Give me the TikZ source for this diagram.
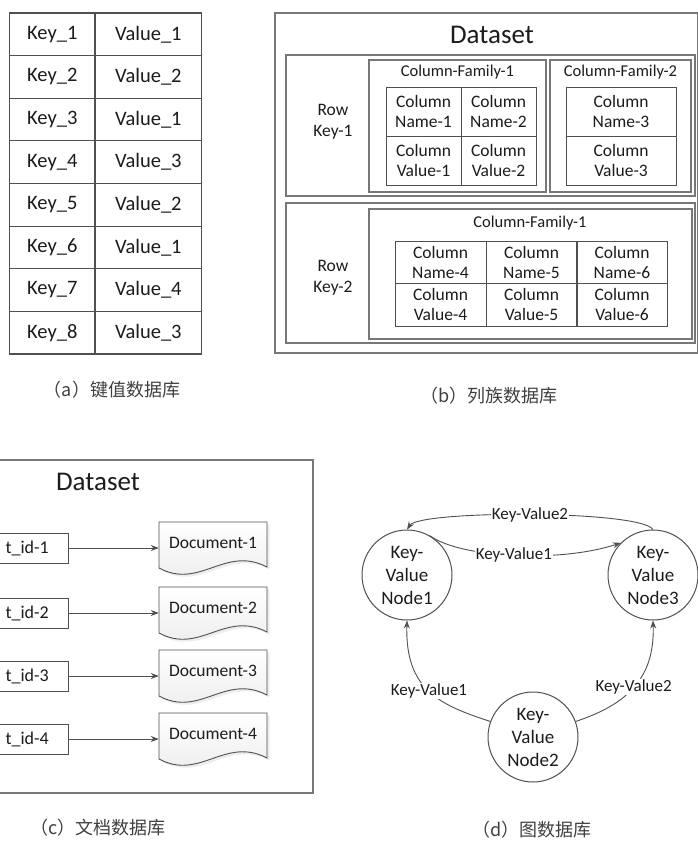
\documentclass[tikz,border=0pt]{standalone}
\usepackage{fontspec}
\setmainfont{Carlito}
\newfontfamily\cjkfont{Noto Sans CJK SC}
\usetikzlibrary{arrows.meta}
\definecolor{ink}{HTML}{1C1C1C}
\definecolor{edge}{HTML}{505050}
\definecolor{rim}{HTML}{777777}

\begin{document}
\begin{tikzpicture}[x=1pt,y=-1pt,
  tcell/.style={draw=edge, line width=1.1pt, inner sep=0pt, text=ink,
    font=\fontsize{20.5}{24}\selectfont},
  cell/.style={draw=edge, line width=1pt, inner sep=0pt, align=center, text=ink,
    font=\fontsize{17.5}{20}\selectfont},
  txt/.style={inner sep=0pt, align=center, text=ink, font=\fontsize{17.5}{21}\selectfont},
  cftxt/.style={inner sep=0pt, text=ink, font=\fontsize{16.5}{20}\selectfont},
  title/.style={inner sep=0pt, text=ink, font=\fontsize{27}{30}\selectfont},
  rim/.style={draw=rim, line width=1.5pt},
  thinrim/.style={draw=rim, line width=1.1pt},
  keybox/.style={draw=edge, line width=1pt, inner sep=0pt, minimum width=136pt, minimum height=30pt},
  doctext/.style={inner sep=0pt, minimum width=108pt, text=ink, font=\fontsize{17.5}{20}\selectfont},
  docshape/.style={draw=edge, line width=0.9pt, top color=white, bottom color=black!8},
  kv/.style={circle, draw=edge, line width=1pt, minimum size=90pt, inner sep=0pt,
    align=center, text=ink, font=\fontsize{19}{23}\selectfont},
  link/.style={draw=edge, line width=0.9pt, -{Stealth[length=8pt,width=6pt]}},
  lbl/.style={fill=white, inner sep=1pt, text=ink, font=\fontsize{17}{20}\selectfont},
  caption/.style={inner sep=0pt, text=black!75, font=\cjkfont\fontsize{18}{20}\selectfont}]

\useasboundingbox (0,0) rectangle (698,844);
\fill[white] (0,0) rectangle (698,844);

% ---------- (a) key-value store ----------
\foreach \k/\v [count=\i] in {1/1,2/2,3/1,4/3,5/2,6/1,7/4,8/3} {
  \node[tcell, minimum width=85.5pt, minimum height=42.625pt]
    (key\i) at (52.25,{13+42.625*(\i-0.5)}) {Key\_\k};
  \node[tcell, minimum width=106.7pt, minimum height=42.625pt]
    (val\i) at (148.35,{13+42.625*(\i-0.5)}) {Value\_\v};
}
\node[caption] (capa) at (112,390) {（a）键值数据库};

% ---------- (b) column-family store ----------
\draw[rim] (275,13) rectangle (697.5,353);
\node[title] (dsb) at (492,35) {Dataset};

% row 1
\draw[rim] (286,55) rectangle (695,196);
\node[txt] (rk1) at (333,122) {Row\\Key-1};
\draw[thinrim] (369,60) rectangle (546,192);
\draw[thinrim] (550,60) rectangle (691,192);
\node[cftxt] (cf11) at (457.5,72) {Column-Family-1};
\node[cftxt] (cf12) at (620.5,72) {Column-Family-2};
\node[cell, minimum width=75pt, minimum height=49pt] (n11) at (423.5,111.75) {Column\\Name-1};
\node[cell, minimum width=75pt, minimum height=49pt] (n12) at (498.5,111.75) {Column\\Name-2};
\node[cell, minimum width=75pt, minimum height=49pt] (v11) at (423.5,160.75) {Column\\Value-1};
\node[cell, minimum width=75pt, minimum height=49pt] (v12) at (498.5,160.75) {Column\\Value-2};
\node[cell, minimum width=110pt, minimum height=49pt] (n13) at (621,111.75) {Column\\Name-3};
\node[cell, minimum width=110pt, minimum height=49pt] (v13) at (621,160.75) {Column\\Value-3};

% row 2
\draw[rim] (286,203) rectangle (695,343);
\node[txt] (rk2) at (333,278) {Row\\Key-2};
\draw[thinrim] (369,209) rectangle (692,339);
\node[cftxt] (cf21) at (530,223) {Column-Family-1};
\foreach \c/\x in {4/440.5,5/531.5,6/622} {
  \node[cell, minimum width=91pt, minimum height=42.5pt] (n2\c) at (\x,262.25) {Column\\Name-\c};
  \node[cell, minimum width=91pt, minimum height=42.5pt] (v2\c) at (\x,304.75) {Column\\Value-\c};
}
\node[caption] (capb) at (489,396) {（b）列族数据库};

% ---------- (c) document store ----------
\draw[thinrim] (-10,460) rectangle (313,793);
\node[title] (dsc) at (98,482) {Dataset};
\foreach \i/\T/\Y in {1/522/548,2/587/613,3/650/676,4/713/739} {
  \node[keybox] (ck\i) at (0,\Y) {};
  \node[anchor=east, inner sep=0pt, text=ink, font=\fontsize{18}{20}\selectfont]
    (ckt\i) at (49,\Y) {t\_id-\i};
  \fill[black!7] (161.5,{\T+2.5}) -- (269.5,{\T+2.5}) -- (269.5,{\T+47.5})
    .. controls (227.5,{\T+25.5}) and (202.5,{\T+70.5}) .. (161.5,{\T+48.5}) -- cycle;
  \draw[docshape] (159,\T) -- (267,\T) -- (267,{\T+45})
    .. controls (225,{\T+23}) and (200,{\T+68}) .. (159,{\T+46}) -- cycle;
  \node[doctext] (doc\i) at (213,{\T+21}) {Document-\i};
  \draw[link] (ck\i.east) -- (ck\i.east -| doc\i.west);
}
\node[caption] (capc) at (98,828) {（c）文档数据库};

% ---------- (d) graph store ----------
\node[kv] (kv1) at (407,575) {Key-\\Value\\Node1};
\node[kv] (kv3) at (653,575) {Key-\\Value\\Node3};
\node[kv] (kv2) at (533,737) {Key-\\Value\\Node2};

\draw[link] (kv3.north) .. controls (640,510) and (420,510) .. node[lbl] {Key-Value2} (kv1.north);
\draw[link] (kv1.60) .. controls (460,558) and (560,563) .. node[lbl] {Key-Value1} (kv3.135);
\draw[link] (kv2.160) .. controls (440,705) and (405,690) .. node[lbl] {Key-Value1} (kv1.south);
\draw[link] (kv2.20) .. controls (625,705) and (655,680) .. node[lbl] {Key-Value2} (kv3.south);

\node[caption] (capd) at (532,830) {（d）图数据库};

\end{tikzpicture}
\end{document}
